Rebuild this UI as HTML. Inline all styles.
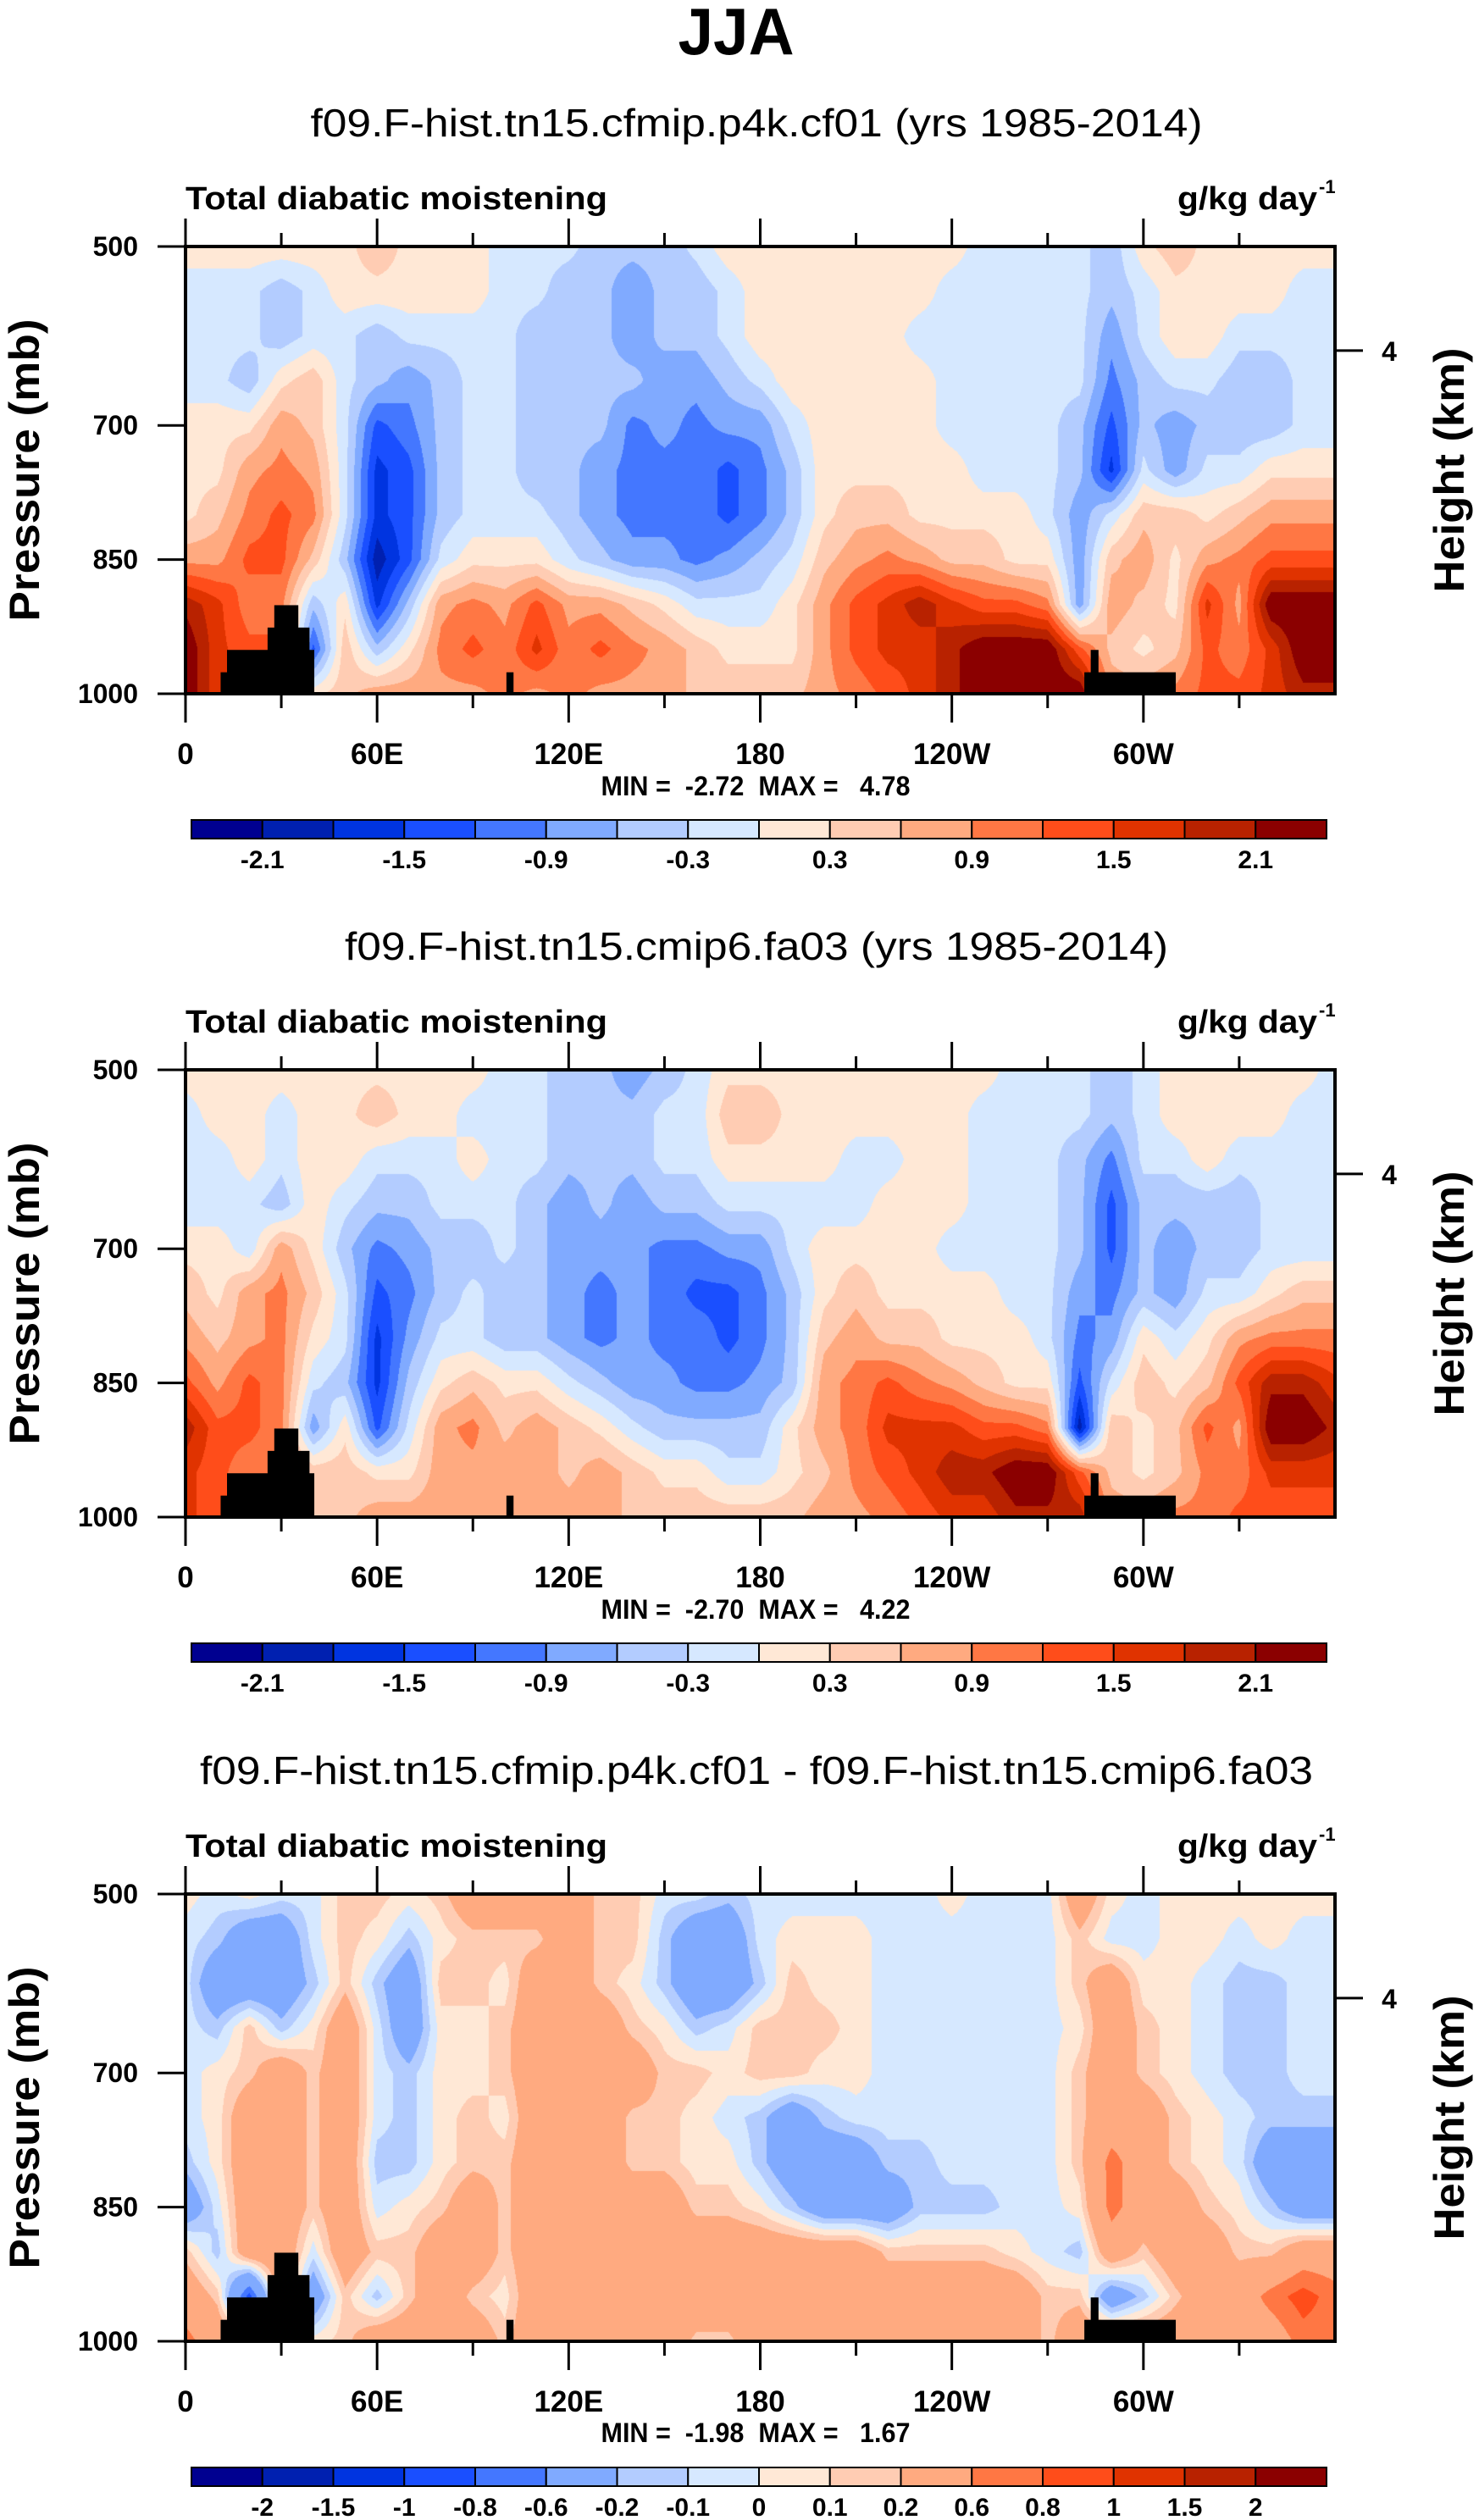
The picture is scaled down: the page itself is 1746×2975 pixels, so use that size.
<!DOCTYPE html>
<html><head><meta charset="utf-8"><title>JJA Total diabatic moistening</title>
<style>
html,body{margin:0;padding:0;background:#fff;}
#wrap{position:relative;width:1746px;height:2975px;overflow:hidden;background:#fff;}
canvas{position:absolute;}
svg{position:absolute;left:0;top:0;}
text{font-family:"Liberation Sans",Arial,sans-serif;fill:#000;}
.b{font-weight:bold;}
</style></head>
<body>
<div id="wrap">
<svg id="ov" width="1746" height="2975" viewBox="0 0 1746 2975">
<text class="b" x="869" y="64" font-size="78" text-anchor="middle" textLength="137" lengthAdjust="spacingAndGlyphs">JJA</text>

<text x="893" y="161" font-size="46" text-anchor="middle" textLength="1053" lengthAdjust="spacingAndGlyphs">f09.F-hist.tn15.cfmip.p4k.cf01 (yrs 1985-2014)</text>
<text class="b" x="219" y="247" font-size="38" textLength="498" lengthAdjust="spacingAndGlyphs">Total diabatic moistening</text>
<text class="b" x="1555" y="247" font-size="38" text-anchor="end" textLength="165" lengthAdjust="spacingAndGlyphs">g/kg day</text>
<text class="b" x="1557" y="228" font-size="22">-1</text>
<text class="b" transform="translate(46,555) rotate(-90)" font-size="50" text-anchor="middle" textLength="357" lengthAdjust="spacingAndGlyphs">Pressure (mb)</text>
<text class="b" transform="translate(1728,555) rotate(-90)" font-size="50" text-anchor="middle" textLength="289" lengthAdjust="spacingAndGlyphs">Height (km)</text>
<text class="b" x="892" y="939" font-size="32" text-anchor="middle" textLength="365" lengthAdjust="spacingAndGlyphs" xml:space="preserve">MIN =  -2.72  MAX =   4.78</text>

<text x="893" y="1133" font-size="46" text-anchor="middle" textLength="972" lengthAdjust="spacingAndGlyphs">f09.F-hist.tn15.cmip6.fa03 (yrs 1985-2014)</text>
<text class="b" x="219" y="1219" font-size="38" textLength="498" lengthAdjust="spacingAndGlyphs">Total diabatic moistening</text>
<text class="b" x="1555" y="1219" font-size="38" text-anchor="end" textLength="165" lengthAdjust="spacingAndGlyphs">g/kg day</text>
<text class="b" x="1557" y="1200" font-size="22">-1</text>
<text class="b" transform="translate(46,1527) rotate(-90)" font-size="50" text-anchor="middle" textLength="357" lengthAdjust="spacingAndGlyphs">Pressure (mb)</text>
<text class="b" transform="translate(1728,1527) rotate(-90)" font-size="50" text-anchor="middle" textLength="289" lengthAdjust="spacingAndGlyphs">Height (km)</text>
<text class="b" x="892" y="1911" font-size="32" text-anchor="middle" textLength="365" lengthAdjust="spacingAndGlyphs" xml:space="preserve">MIN =  -2.70  MAX =   4.22</text>

<text x="893" y="2106" font-size="46" text-anchor="middle" textLength="1314" lengthAdjust="spacingAndGlyphs">f09.F-hist.tn15.cfmip.p4k.cf01 - f09.F-hist.tn15.cmip6.fa03</text>
<text class="b" x="219" y="2192" font-size="38" textLength="498" lengthAdjust="spacingAndGlyphs">Total diabatic moistening</text>
<text class="b" x="1555" y="2192" font-size="38" text-anchor="end" textLength="165" lengthAdjust="spacingAndGlyphs">g/kg day</text>
<text class="b" x="1557" y="2173" font-size="22">-1</text>
<text class="b" transform="translate(46,2500) rotate(-90)" font-size="50" text-anchor="middle" textLength="357" lengthAdjust="spacingAndGlyphs">Pressure (mb)</text>
<text class="b" transform="translate(1728,2500) rotate(-90)" font-size="50" text-anchor="middle" textLength="289" lengthAdjust="spacingAndGlyphs">Height (km)</text>
<text class="b" x="892" y="2883" font-size="32" text-anchor="middle" textLength="365" lengthAdjust="spacingAndGlyphs" xml:space="preserve">MIN =  -1.98  MAX =   1.67</text>
</svg>
</div>
<script>
// ---- data ----
const LONS = [0,10,20,30,40,50,60,70,80,90,100,110,120,130,140,150,160,170,180,190,200,210,220,230,240,250,260,270,280,290,300,310,320,330,340,350,360];
const PRES = [500,550,600,650,700,750,800,850,900,950,1000];
const X_TICK_LONS = [0,60,120,180,240,300];
const X_TICK_LABELS = ['0','60E','120E','180','120W','60W'];
const X_MINOR_LONS = [30,90,150,210,270,330];
const Y_TICK_PRES = [500,700,850,1000];
const Y_TICK_LABELS = ['500','700','850','1000'];
const HEIGHT_TICKS_KM = [4];
const HEIGHT_TICK_LABELS = ['4'];
const LEVELS_FULL = [-2.1,-1.8,-1.5,-1.2,-0.9,-0.6,-0.3,0,0.3,0.6,0.9,1.2,1.5,1.8,2.1];
const CB_LABELS_FULL = ['-2.1','-1.5','-0.9','-0.3','0.3','0.9','1.5','2.1'];
const CB_LABEL_VALUES_FULL = [-2.1,-1.5,-0.9,-0.3,0.3,0.9,1.5,2.1];
const LEVELS_DIFF = [-2,-1.5,-1,-0.8,-0.6,-0.2,-0.1,0,0.1,0.2,0.6,0.8,1,1.5,2];
const CB_LABELS_DIFF = ['-2','-1.5','-1','-0.8','-0.6','-0.2','-0.1','0','0.1','0.2','0.6','0.8','1','1.5','2'];
const CB_LABEL_VALUES_DIFF = [-2,-1.5,-1,-0.8,-0.6,-0.2,-0.1,0,0.1,0.2,0.6,0.8,1,1.5,2];
const COLORS = ['#000090','#0020b0','#0034e0','#1a4fff','#4477ff','#80aaff','#b3ccff','#d6e8ff','#ffe8d6','#ffccb3','#ffaa80','#ff7744','#ff4d1a','#e03300','#b82200','#8b0000'];
// topography: [lonStart, lonEnd, topPressure]
const TOPO_LON0 = [11,13,25.7,27.8,35.2,38.7,100.5,281.5,283.5,285.8];
const TOPO_LON1 = [13,25.7,27.8,35.2,38.7,40.2,102.6,283.5,285.8,310];
const TOPO_PTOP = [976,951,926,901,926,951,976,976,951,976];

const FIELD_CF01 = [
[.2,.2,.2,.2,.2,.2,.5,.2,.2,.2,-.2,-.2,-.2,-.5,-.5,-.5,-.2,.2,.2,.2,.2,.2,.2,.2,.2,-.2,-.2,-.2,-.2,-.5,.2,.5,.2,.2,.2,.2,.2],
[-.2,-.2,-.2,-.5,-.2,.2,.2,.2,.2,.2,-.2,-.2,-.5,-.5,-.8,-.5,-.5,-.2,.2,.2,.2,.2,.2,.2,-.2,-.2,-.2,-.2,-.2,-.5,-.2,.2,.2,.2,.2,-.2,-.2],
[-.2,-.2,-.2,-.5,-.2,-.2,-.5,-.2,-.2,-.2,-.2,-.5,-.5,-.5,-.8,-.5,-.5,-.2,.2,.2,.2,.2,.2,-.2,-.2,-.2,-.2,-.2,-.2,-.8,-.2,.2,.2,-.2,-.2,-.2,-.2],
[-.2,-.2,-.5,.2,.5,-.2,-.5,-.8,-.5,-.2,-.2,-.5,-.5,-.5,-.5,-.8,-.8,-.5,-.2,.2,.2,.2,.2,.2,-.2,-.2,-.2,-.2,-.2,-1,-.5,-.2,-.2,-.5,-.5,-.2,-.2],
[.2,.2,.2,.8,.5,-.2,-1.3,-1,-.5,-.2,-.2,-.5,-.5,-.5,-1,-.8,-1,-.8,-.8,-.2,.2,.2,.2,.2,-.2,-.2,-.2,-.2,-.5,-1.3,-.5,-.8,-.5,-.5,-.5,-.2,-.2],
[.2,.2,.8,1,.8,-.2,-1.6,-1.3,-.5,-.2,-.2,-.5,-.5,-.8,-1,-1,-1,-1.3,-1,-.5,.2,.2,.2,.2,.2,-.2,-.2,-.2,-.5,-1.6,-.2,-.8,-.2,-.2,.2,.2,.2],
[.2,.5,1,1.3,1,-.2,-1.6,-1.3,-.5,-.2,-.2,-.2,-.5,-.8,-1,-1,-1,-1.3,-1,-.5,.2,.5,.5,.2,.2,.2,.2,-.2,-.8,-.2,.5,.5,.2,.5,.8,.8,.8],
[.8,.8,1.3,1.3,.5,-.5,-2,-1.3,-.2,.2,.2,.2,-.2,-.5,-.8,-.8,-1,-.8,-.5,-.2,.5,.8,1,.8,.5,.5,.2,.2,-.8,.5,.8,.2,.8,1,1.3,1.3,1.3],
[2,1.6,1,1,-.5,.2,-1.6,-.5,.8,1,.8,1.3,.8,.8,.5,.2,-.2,-.2,-.2,.2,.8,1.3,1.6,2,1.6,1.3,1.3,1,-.8,.8,.5,.2,1.6,.8,2.4,2.4,2.4],
[2.4,1.6,1.3,1.3,-1.3,.5,-.5,.2,1,1.3,1,1.6,1,1.3,1,.8,.5,.2,.2,.2,.8,1.3,1.6,1.6,2,2.4,2.4,2.4,1.3,.5,.2,.5,1.3,1,1.6,2.4,2.4],
[2.4,1.6,1.3,1.3,.2,.5,.8,.8,.8,.8,1,.8,1,.8,.8,.8,.5,.5,.5,.5,.8,1,1.3,1.6,2,2.4,2.4,2.4,2.4,.8,.8,1,1.3,1.3,1.6,2,2]
];
const FIELD_FA03 = [
[.2,.2,.2,.2,.2,.2,.2,.2,.2,.2,-.2,-.2,-.5,-.5,-.8,-.5,-.2,.2,.2,.2,.2,.2,.2,.2,.2,.2,-.2,-.2,-.2,-.5,-.2,.2,.2,.2,.2,.2,-.2],
[-.2,.2,.2,-.2,.2,.2,.5,.2,.2,-.2,-.2,-.2,-.5,-.5,-.5,-.2,-.2,.5,.5,.2,.2,.2,.2,.2,.2,-.2,-.2,-.2,-.2,-.5,-.2,.2,.2,.2,.2,-.2,-.2],
[-.2,-.2,.2,-.2,.2,.2,-.2,-.2,-.2,.2,-.2,-.2,-.5,-.5,-.5,-.2,-.2,.2,.2,.2,.2,-.2,-.2,.2,.2,-.2,-.2,-.2,-.5,-1,-.2,-.2,.2,-.2,-.2,-.2,-.2],
[-.2,-.2,-.2,-.5,.2,-.2,-.5,-.5,-.2,-.2,-.2,-.5,-.8,-.5,-.8,-.5,-.5,-.2,-.2,-.2,-.2,-.2,.2,.2,.2,-.2,-.2,-.2,-.5,-1.3,-.5,-.5,-.5,-.5,-.2,-.2,-.2],
[.2,.2,-.2,.8,.2,-.5,-1,-.8,-.5,-.5,-.2,-.5,-.8,-.8,-.8,-1,-1,-.8,-.8,-.2,.2,.2,.2,.2,-.2,-.2,-.2,-.2,-.5,-1.3,-.5,-.8,-.5,-.5,-.2,-.2,-.2],
[.5,.2,.8,1,.5,-.2,-1.3,-1,-.5,-.2,-.5,-.5,-.8,-1,-.8,-1,-1.3,-1.3,-1,-.5,.2,.5,.2,.2,.2,.2,-.2,-.2,-.8,-1,-.5,-.8,-.2,-.2,.2,.5,.5],
[.8,.5,.8,1,.2,-.2,-1.6,-.8,-.2,-.2,-.5,-.5,-.8,-1,-.8,-1,-1,-1.3,-1,-.5,.5,.8,.5,.5,.2,.2,.2,-.2,-1,-.8,.2,-.2,.2,.8,1,1,1],
[1.3,.8,1.3,1,-.2,-.5,-1.6,-.5,.2,.5,.2,.2,-.2,-.5,-.8,-.8,-1,-1,-.8,-.5,.8,1,1.3,1,.8,.5,.2,.2,-1.3,-.2,.5,.2,.5,1.3,2,2,1.6],
[2,1.3,1.3,1,-.8,.2,-1.3,-.2,.8,1,.5,.8,.5,.2,-.2,-.5,-.5,-.5,-.5,.2,.8,1,1.6,1.6,1.6,1.3,1.3,1,-2,.5,.2,.5,1.3,.8,2.4,2.4,2],
[1.6,1.3,1,1,.5,.5,.2,.2,.8,.8,.8,.8,.5,.8,.5,.2,.2,-.2,-.2,.2,.5,1,1.3,1.6,2,2,2.4,2.4,1.3,.5,.2,.5,1,1,1.6,1.6,1.6],
[1.6,1.3,1,1,.5,.5,.8,.8,.8,.8,.8,.8,.8,.8,.5,.5,.5,.5,.5,.5,.8,.8,1,1.3,1.6,1.6,2,2,2,.8,.8,1,1,1.3,1.3,1.3,1.3]
];
const FIELD_DIFF = [
[.05,-.05,.05,-.05,-.05,.15,.15,.05,.15,.4,.4,.4,.4,.15,.15,-.05,-.05,-.15,-.05,-.05,-.05,-.05,-.05,-.05,.05,-.05,-.05,-.05,.4,.05,-.05,.05,.05,.05,.05,.05,.05],
[-.05,-.15,-.4,-.4,-.05,.15,.05,-.15,.05,.15,.15,.15,.4,.15,.15,-.15,-.4,-.4,-.05,.05,.05,.05,-.05,-.05,-.05,-.05,-.05,-.05,.15,-.05,-.05,.05,.05,-.05,.05,-.05,-.05],
[-.05,-.4,-.4,-.4,-.15,.15,-.15,-.4,.15,.15,.05,.4,.4,.15,.05,-.15,-.4,-.4,-.15,.15,.05,.05,-.05,-.05,-.05,-.05,-.05,-.05,.15,.4,.05,.05,-.05,-.15,-.15,-.05,-.05],
[-.05,-.15,.15,-.15,.05,.4,-.05,-.4,.05,.05,.15,.4,.4,.4,.15,.05,-.15,-.05,.15,.15,.15,.05,-.05,-.05,-.05,-.05,-.05,-.05,.05,.4,.15,.05,-.05,-.15,-.15,-.05,-.05],
[-.05,.05,.15,.4,.15,.4,-.05,-.15,.05,.05,.15,.4,.4,.4,.4,.15,.15,.05,.15,.15,.05,.05,-.05,-.05,-.05,-.05,-.05,-.05,.15,.4,.15,.05,-.05,-.15,-.15,-.05,-.05],
[-.05,.05,.4,.4,.15,.4,-.05,-.15,.05,.15,.05,.4,.4,.4,.15,.15,.05,-.05,-.15,-.4,-.15,-.05,-.05,-.05,-.05,-.05,-.05,-.05,.15,.4,.4,.15,.05,-.05,-.15,-.15,-.15],
[-.15,.05,.4,.4,.15,.4,-.15,-.15,.05,.15,.15,.4,.4,.4,.15,.15,.05,.05,-.15,-.4,-.4,-.4,-.15,-.15,-.05,-.05,-.05,-.05,.15,.7,.4,.15,.05,-.05,-.4,-.4,-.4],
[-.4,-.05,.4,.4,.15,.4,-.05,.05,.15,.4,.15,.4,.4,.4,.4,.4,.15,.15,.05,-.15,-.4,-.4,-.4,-.15,-.15,-.15,-.05,-.05,.05,.7,.4,.4,.15,.05,-.15,-.4,-.4],
[.15,-.15,.4,.4,-.05,.4,.15,.15,.4,.4,.15,.4,.4,.4,.4,.4,.4,.4,.4,.4,.4,.4,.15,.15,.15,.15,.05,-.05,-.15,.4,.15,.4,.4,.15,.15,.4,.4],
[.4,.15,-.9,.4,-.4,.15,-.15,.15,.4,.15,.05,.4,.4,.4,.4,.4,.4,.4,.4,.4,.4,.4,.4,.4,.4,.4,.4,.15,.15,-.4,-.15,.15,.4,.4,.7,.9,.7],
[.7,.4,.4,.4,.05,.15,.4,.4,.4,.4,.15,.4,.4,.4,.4,.4,.15,.15,.4,.4,.4,.4,.4,.4,.4,.4,.4,.15,.4,.4,.4,.4,.4,.4,.4,.7,.7]
];

// ---- layout ----
const PL = 219, PW = 1357, PH = 528;
const TOPS = [291, 1263, 2236];
const CBX = 226, CBW = 1340;
const NS = 'http://www.w3.org/2000/svg';
const ov = document.getElementById('ov');
const wrap = document.getElementById('wrap');

function mk(tag, attrs) {
  const e = document.createElementNS(NS, tag);
  for (const k in attrs) e.setAttribute(k, attrs[k]);
  ov.appendChild(e);
  return e;
}
function xOf(lon) { return PL + lon / 360 * PW; }
function yOf(p, T) { return T + (p - 500) / 500 * PH; }
function classOf(v, levels) { let k = 0; while (k < levels.length && v >= levels[k]) k++; return k; }
function hexRgb(h) { return [parseInt(h.substr(1,2),16), parseInt(h.substr(3,2),16), parseInt(h.substr(5,2),16)]; }
const RGB = COLORS.map(hexRgb);

function drawField(idx, T, field, levels) {
  const cv = document.createElement('canvas');
  cv.width = PW; cv.height = PH;
  cv.style.left = PL + 'px'; cv.style.top = T + 'px';
  
  
  wrap.insertBefore(cv, ov);
  const ctx = cv.getContext('2d');
  const img = ctx.createImageData(PW, PH);
  const d = img.data;
  const nc = LONS.length, nr = PRES.length;
  for (let j = 0; j < PH; j++) {
    const p = 500 + (j + 0.5) / PH * 500;
    let r0 = 0; while (r0 < nr - 2 && p > PRES[r0 + 1]) r0++;
    const ty = (p - PRES[r0]) / (PRES[r0 + 1] - PRES[r0]);
    for (let i = 0; i < PW; i++) {
      const lon = (i + 0.5) / PW * 360;
      let c0 = Math.min(Math.floor(lon / 10), nc - 2);
      const tx = (lon - LONS[c0]) / (LONS[c0 + 1] - LONS[c0]);
      const a = field[r0][c0] * (1 - tx) + field[r0][c0 + 1] * tx;
      const b = field[r0 + 1][c0] * (1 - tx) + field[r0 + 1][c0 + 1] * tx;
      const v = a * (1 - ty) + b * ty;
      const c = RGB[classOf(v, levels)];
      const o = (j * PW + i) * 4;
      d[o] = c[0]; d[o + 1] = c[1]; d[o + 2] = c[2]; d[o + 3] = 255;
    }
  }
  ctx.putImageData(img, 0, 0);
}

function heightToP(km) { return 1013.25 * Math.pow(1 - 2.25577e-5 * km * 1000, 5.25588); }

function drawAxes(idx, T, levels, cbLabels, cbVals) {
  const B = T + PH;
  const pn = 'panel' + (idx + 1);
  for (let k = 0; k < TOPO_LON0.length; k++) {
    const x0 = xOf(TOPO_LON0[k]), x1 = xOf(TOPO_LON1[k]), y0 = yOf(TOPO_PTOP[k], T);
    const r = mk('rect', {x: x0, y: y0, width: x1 - x0 + 0.5, height: B - y0, fill: '#000'});
    
    
  }
  const fr = mk('rect', {x: PL, y: T, width: PW, height: PH, fill: 'none', stroke: '#000', 'stroke-width': 4});
  
  
  for (let k = 0; k < X_TICK_LONS.length; k++) {
    const x = xOf(X_TICK_LONS[k]);
    const t1 = mk('line', {x1: x, y1: T - 33, x2: x, y2: T, stroke: '#000', 'stroke-width': 3});
    
    
    const t2 = mk('line', {x1: x, y1: B, x2: x, y2: B + 34, stroke: '#000', 'stroke-width': 3});
    
    
    const lb = mk('text', {x: x, y: B + 83, 'font-size': 35, 'text-anchor': 'middle', 'font-weight': 'bold'});
    lb.textContent = X_TICK_LABELS[k];
    
    
  }
  for (let k = 0; k < X_MINOR_LONS.length; k++) {
    const x = xOf(X_MINOR_LONS[k]);
    const t1 = mk('line', {x1: x, y1: T - 16, x2: x, y2: T, stroke: '#000', 'stroke-width': 3});
    
    
    const t2 = mk('line', {x1: x, y1: B, x2: x, y2: B + 17, stroke: '#000', 'stroke-width': 3});
    
    
  }
  for (let k = 0; k < Y_TICK_PRES.length; k++) {
    const y = yOf(Y_TICK_PRES[k], T);
    const t = mk('line', {x1: PL - 33, y1: y, x2: PL, y2: y, stroke: '#000', 'stroke-width': 3});
    
    
    const lb = mk('text', {x: 163, y: y + 11, 'font-size': 32, 'text-anchor': 'end', 'font-weight': 'bold'});
    lb.textContent = Y_TICK_LABELS[k];
    
    
  }
  for (let k = 0; k < HEIGHT_TICKS_KM.length; k++) {
    const y = yOf(heightToP(HEIGHT_TICKS_KM[k]), T);
    const t = mk('line', {x1: PL + PW, y1: y, x2: PL + PW + 33, y2: y, stroke: '#000', 'stroke-width': 3});
    
    
    const lb = mk('text', {x: 1640, y: y + 12, 'font-size': 32, 'text-anchor': 'middle', 'font-weight': 'bold'});
    lb.textContent = HEIGHT_TICK_LABELS[k];
    
    
  }
  // colorbar
  const cy = B + 149, ch = 22, bw = CBW / COLORS.length;
  for (let k = 0; k < COLORS.length; k++) {
    const r = mk('rect', {x: CBX + k * bw, y: cy, width: bw, height: ch, fill: COLORS[k], stroke: '#000', 'stroke-width': 2});
    
    
  }
  for (let k = 0; k < cbLabels.length; k++) {
    const b = levels.indexOf(cbVals[k]) + 1;
    const lb = mk('text', {x: CBX + b * bw, y: B + 206, 'font-size': 30, 'text-anchor': 'middle', 'font-weight': 'bold'});
    lb.textContent = cbLabels[k];
    
    
  }
}

const FIELDS = [FIELD_CF01, FIELD_FA03, FIELD_DIFF];
const LEVS = [LEVELS_FULL, LEVELS_FULL, LEVELS_DIFF];
const CBL = [CB_LABELS_FULL, CB_LABELS_FULL, CB_LABELS_DIFF];
const CBV = [CB_LABEL_VALUES_FULL, CB_LABEL_VALUES_FULL, CB_LABEL_VALUES_DIFF];
for (let i = 0; i < 3; i++) {
  drawField(i, TOPS[i], FIELDS[i], LEVS[i]);
  drawAxes(i, TOPS[i], LEVS[i], CBL[i], CBV[i]);
}
</script>
</body></html>
